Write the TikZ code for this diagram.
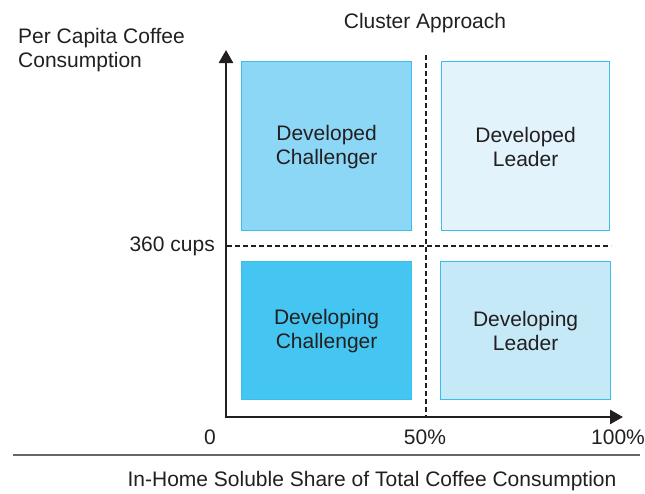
\documentclass[tikz,border=0pt]{standalone}
\usepackage{fontspec}
\setmainfont{Liberation Sans}
\usetikzlibrary{arrows.meta}
\definecolor{txt}{HTML}{231F20}
\definecolor{bord}{HTML}{3ABEEE}
\definecolor{fillA}{HTML}{8DD7F6}
\definecolor{fillB}{HTML}{E2F3FC}
\definecolor{fillC}{HTML}{45C6F2}
\definecolor{fillD}{HTML}{C6E9F8}
\begin{document}
\begin{tikzpicture}[x=1pt,y=-1pt,
  every node/.style={font=\fontsize{21}{24}\selectfont, text=txt, inner sep=0pt},
  quad/.style={draw=bord, line width=1.2pt, align=center, anchor=north west},
  axis/.style={draw=txt, line width=2.6pt, -{Triangle[length=13pt,width=14pt]}},
  grid/.style={draw=txt, line width=2.2pt, dash pattern=on 5pt off 3pt}]
\useasboundingbox (0,0) rectangle (645,493);
% quadrants
\node[quad, fill=fillA, minimum width=170pt, minimum height=169pt] (dc) at (241,61) {\strut Developed\\Challenger};
\node[quad, fill=fillB, minimum width=168pt, minimum height=169pt] (dl) at (441,61) {\strut Developed\\Leader};
\node[quad, fill=fillC, minimum width=170pt, minimum height=138pt] (gc) at (241,261) {\strut Developing\\Challenger};
\node[quad, fill=fillD, minimum width=170pt, minimum height=138pt] (gl) at (440,261) {\strut Developing\\Leader};
% axes
\coordinate (ytip) at (226,50);
\coordinate (xtip) at (623,417);
\coordinate (vtop) at (426,55);
\coordinate (vbot) at (426,416);
\coordinate (hl) at (227,246);
\coordinate (hr) at (611,246);
\draw[grid] (vtop) -- (vbot);
\draw[grid] (hl) -- (hr);
\draw[axis] (226,418.3) -- (ytip);
\draw[axis] (224.7,417) -- (xtip);
% labels
\node[anchor=east] (cups) at (215,246) {360 cups};
\node (zero) at (210,437) {0};
\node (fifty) at (425,437) {50\%};
\node (hund) at (618,437) {100\%};
\node (title) at (425,23.5) {Cluster Approach};
\node[anchor=north west, align=left] (ylab) at (18,28) {Per Capita Coffee\\Consumption};
\draw[draw=black!60, line width=1.8pt] (13,455) -- (640,455);
\node (xlab) at (372,481.5) {In-Home Soluble Share of Total Coffee Consumption};
\end{tikzpicture}
\end{document}
